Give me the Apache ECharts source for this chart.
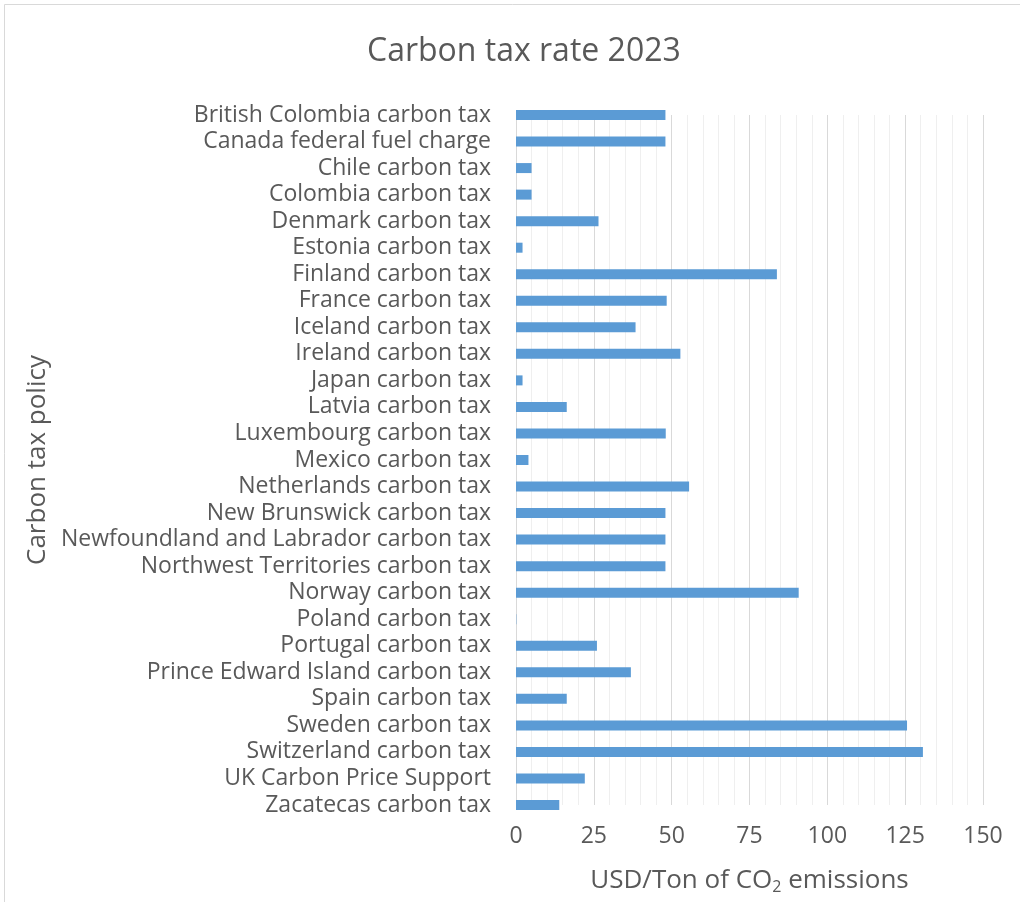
<!DOCTYPE html>
<html>
<head>
<meta charset="utf-8">
<script src="https://cdn.jsdelivr.net/npm/echarts@6/dist/echarts.min.js"></script>
<style>
  html, body { margin: 0; padding: 0; background: #fff; overflow: hidden; }
  #chart { width: 1020px; height: 902px; }
</style>
</head>
<body>
<div id="chart"></div>
<script>
const policies = [
  'British Colombia carbon tax', 'Canada federal fuel charge', 'Chile carbon tax',
  'Colombia carbon tax', 'Denmark carbon tax', 'Estonia carbon tax', 'Finland carbon tax',
  'France carbon tax', 'Iceland carbon tax', 'Ireland carbon tax', 'Japan carbon tax',
  'Latvia carbon tax', 'Luxembourg carbon tax', 'Mexico carbon tax', 'Netherlands carbon tax',
  'New Brunswick carbon tax', 'Newfoundland and Labrador carbon tax',
  'Northwest Territories carbon tax', 'Norway carbon tax', 'Poland carbon tax',
  'Portugal carbon tax', 'Prince Edward Island carbon tax', 'Spain carbon tax',
  'Sweden carbon tax', 'Switzerland carbon tax', 'UK Carbon Price Support', 'Zacatecas carbon tax'
];
// USD per ton of CO2
const rates = [
  48.0, 48.0, 5.0, 5.0, 26.5, 2.1, 83.8, 48.4, 38.4, 52.8, 2.1, 16.3, 48.1, 4.0, 55.6,
  48.0, 48.0, 48.0, 90.8, 0.1, 26.0, 36.9, 16.3, 125.6, 130.7, 22.1, 13.9
];
const xTicks = [0, 25, 50, 75, 100, 125, 150];

const FONT = '"Open Sans", sans-serif';
const TEXT = '#595959';

const chart = echarts.init(document.getElementById('chart'), null, { renderer: 'canvas' });

chart.setOption({
  animation: false,
  textStyle: { fontFamily: FONT },
  title: {
    text: 'Carbon tax rate 2023',
    left: 362,
    top: 31,
    textStyle: { fontFamily: FONT, fontSize: 32, fontWeight: 'normal', color: TEXT }
  },
  graphic: [{
    type: 'rect',
    shape: { x: 4.5, y: 4.5, width: 1100, height: 1100 },
    style: { fill: 'none', stroke: '#d9d9d9', lineWidth: 1 },
    silent: true
  }],
  grid: { left: 516, right: 37, top: 115, bottom: 97, containLabel: false },
  xAxis: {
    type: 'value',
    min: xTicks[0],
    max: xTicks[xTicks.length - 1],
    interval: 25,
    name: '{n|USD/Ton of CO}{s|2}{n| emissions}',
    nameLocation: 'middle',
    nameGap: 62,
    nameTextStyle: {
      rich: {
        n: { fontFamily: FONT, fontSize: 26, color: TEXT },
        s: { fontFamily: FONT, fontSize: 16, color: TEXT, padding: [12, 0, 0, 0] }
      }
    },
    axisLine: { show: false },
    axisTick: { show: false },
    axisLabel: { color: TEXT, fontSize: 23, margin: 20, fontFamily: FONT },
    splitLine: { show: true, lineStyle: { color: '#d9d9d9', width: 1 } },
    minorTick: { show: false, splitNumber: 5 },
    minorSplitLine: { show: true, lineStyle: { color: '#efefef', width: 1 } }
  },
  yAxis: {
    type: 'category',
    data: policies,
    inverse: true,
    boundaryGap: false,
    name: 'Carbon tax policy',
    nameLocation: 'middle',
    nameRotate: 90,
    nameGap: 465,
    nameTextStyle: { fontFamily: FONT, fontSize: 26, color: TEXT },
    axisLine: { show: true, lineStyle: { color: '#d9d9d9', width: 1 } },
    axisTick: { show: false },
    axisLabel: { color: TEXT, fontSize: 23, margin: 25, fontFamily: FONT, interval: 0 },
    splitLine: { show: false }
  },
  series: [{
    type: 'bar',
    data: rates,
    barWidth: 10,
    clip: true,
    itemStyle: { color: '#5b9bd5' }
  }]
});
</script>
</body>
</html>
